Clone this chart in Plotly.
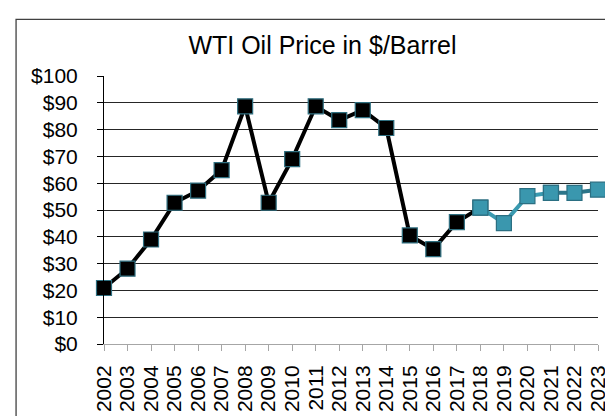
import plotly.graph_objects as go

years = list(range(2002, 2024))
year_labels = [str(y) for y in years]

hist_years = list(range(2002, 2019))
hist_prices = [20.9, 28.1, 39.0, 52.7, 57.2, 64.9, 88.7, 52.7, 69.0, 88.7, 83.5, 87.3, 80.6, 40.5, 35.4, 45.5, 50.9]

fc_years = [2018, 2019, 2020, 2021]
fc_prices = [50.9, 45.1, 55.2, 56.4]

fc2_years = [2021, 2022, 2023]
fc2_prices = [56.4, 56.4, 57.6]

y_ticks = list(range(0, 101, 10))
y_labels = ["$" + str(v) for v in y_ticks]

FONT = "Arial, Liberation Sans, sans-serif"

fig = go.Figure()
fig.add_trace(go.Scatter(
    x=hist_years, y=hist_prices, mode="lines+markers",
    line=dict(color="#000000", width=4),
    marker=dict(symbol="square", size=15, color="#000000",
                line=dict(color="#2f6f80", width=1.2)),
    cliponaxis=False, showlegend=False))
fig.add_trace(go.Scatter(
    x=fc2_years, y=fc2_prices, mode="lines",
    line=dict(color="#2c7589", width=4),
    cliponaxis=False, showlegend=False))
fig.add_trace(go.Scatter(
    x=fc_years, y=fc_prices, mode="lines+markers",
    line=dict(color="#3a9ab0", width=4),
    marker=dict(symbol="square", size=15, color="#3a97ae",
                line=dict(color="#2b6f82", width=1.2)),
    cliponaxis=False, showlegend=False))
fig.add_trace(go.Scatter(
    x=fc2_years, y=fc2_prices, mode="markers",
    marker=dict(symbol="square", size=15, color="#3a97ae",
                line=dict(color="#2b6f82", width=1.2)),
    cliponaxis=False, showlegend=False))

fig.update_layout(
    width=613, height=416,
    margin=dict(l=96, r=17, t=68, b=67),
    paper_bgcolor="white", plot_bgcolor="white",
    font=dict(family=FONT, color="#000000", size=21),
    title=dict(text="WTI Oil Price in $/Barrel", x=0.513, xanchor="center",
               y=0.91, yanchor="middle", yref="container",
               font=dict(family=FONT, size=25, color="#000000")),
    xaxis=dict(range=[2002, 2023], tickmode="array", tickvals=years, ticktext=year_labels,
               tickangle=-90, showgrid=False, zeroline=False,
               showline=True, linecolor="#a6a6a6", linewidth=1,
               ticks="outside", ticklen=6, tickcolor="#a6a6a6",
               ticklabelstandoff=6,
               tickfont=dict(family=FONT, size=21, color="#000000")),
    yaxis=dict(range=[0, 100], tickmode="array", tickvals=y_ticks, ticktext=y_labels,
               showgrid=True, gridcolor="#262626", gridwidth=1, zeroline=False,
               showline=True, linecolor="#000000", linewidth=1,
               ticks="outside", ticklen=6, tickcolor="#000000",
               ticklabelstandoff=15,
               tickfont=dict(family=FONT, size=21, color="#000000")),
    shapes=[dict(type="rect", xref="paper", yref="paper",
                 x0=-0.178, x1=1.2, y0=-0.4, y1=1.211,
                 line=dict(color="#404040", width=1.3), layer="below")],
)

fig.write_html("out.html")
